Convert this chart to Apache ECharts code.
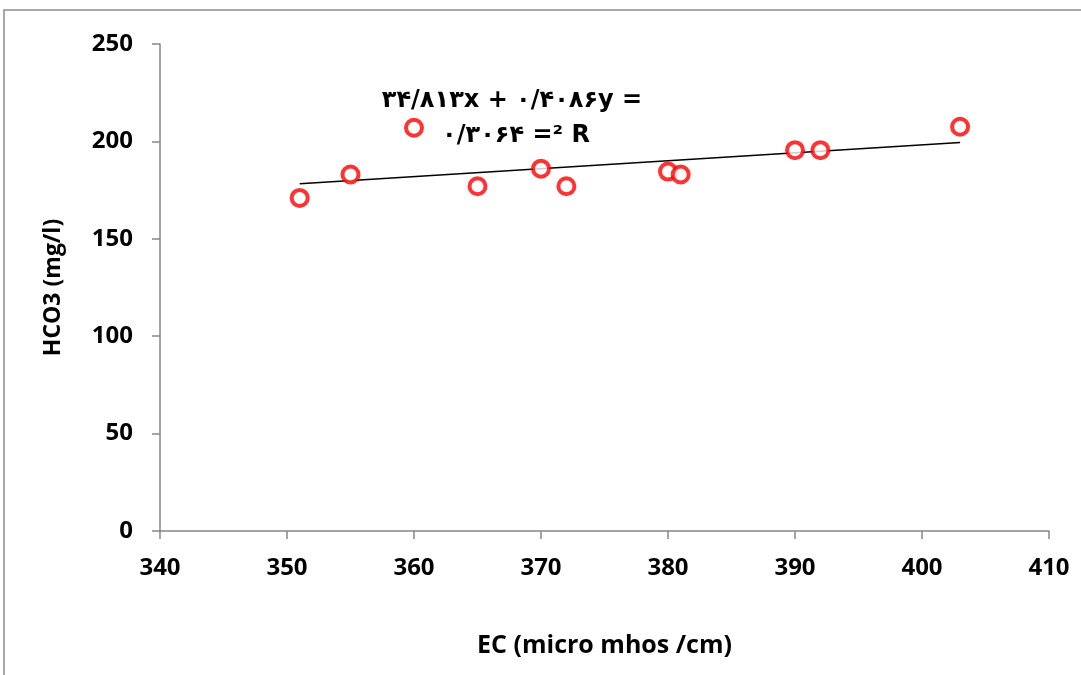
<!DOCTYPE html>
<html>
<head>
<meta charset="utf-8">
<script src="https://cdn.jsdelivr.net/npm/echarts@6/dist/echarts.min.js"></script>
<style>
  html, body { margin: 0; padding: 0; background: #fff; }
  #chart { width: 1081px; height: 675px; }
</style>
</head>
<body>
<div id="chart"></div>
<script>
'use strict';

// EC values (x) and HCO3 values (y)
var ecValues = [351, 355, 360, 365, 370, 372, 380, 381, 390, 392, 403];
var hco3Values = [171, 183, 207, 177, 186, 177, 184.5, 183, 195.5, 195.5, 207.5];

// trendline as printed on the chart: y = 0.4086x + 34.813
var trendSlope = 0.4086;
var trendIntercept = 34.813;

var eqLine1 = '۳۴/۸۱۳x + ۰/۴۰۸۶y =';
var eqLine2 = '۰/۳۰۶۴ =² R';

var points = [];
for (var i = 0; i < ecValues.length; i++) {
    points.push([ecValues[i], hco3Values[i]]);
}
var xMin = Math.min.apply(null, ecValues);
var xMax = Math.max.apply(null, ecValues);
var trendData = [
    [xMin, trendSlope * xMin + trendIntercept],
    [xMax, trendSlope * xMax + trendIntercept]
];

var fontFam = '"Open Sans", "DejaVu Sans", sans-serif';
var eqFont = '"DejaVu Sans", "Open Sans", sans-serif';
var axisColor = '#868686';

var chart = echarts.init(document.getElementById('chart'));

var option = {
    animation: false,
    backgroundColor: '#fff',
    grid: {
        left: 160,
        right: 32,
        top: 44,
        bottom: 144
    },
    graphic: [{
        type: 'rect',
        shape: { x: 4, y: 10, width: 1100, height: 700 },
        style: { fill: 'none', stroke: '#8c8c8c', lineWidth: 1.5 },
        silent: true
    }, {
        type: 'text',
        x: 512,
        y: 101,
        style: {
            text: eqLine1,
            textAlign: 'center',
            textVerticalAlign: 'middle',
            font: 'bold 24px ' + eqFont,
            fill: '#000'
        }
    }, {
        type: 'text',
        x: 516,
        y: 136,
        style: {
            text: eqLine2,
            textAlign: 'center',
            textVerticalAlign: 'middle',
            font: 'bold 24px ' + eqFont,
            fill: '#000'
        }
    }],
    xAxis: {
        type: 'value',
        min: 340,
        max: 410,
        interval: 10,
        name: 'EC (micro mhos /cm)',
        nameLocation: 'middle',
        nameGap: 102,
        nameTextStyle: { fontFamily: fontFam, fontWeight: 'bold', fontSize: 25, color: '#000' },
        splitLine: { show: false },
        axisLine: { lineStyle: { color: axisColor, width: 1.5 } },
        axisTick: { show: true, length: 8, lineStyle: { color: axisColor, width: 1.5 } },
        axisLabel: { fontFamily: fontFam, fontWeight: 'bold', fontSize: 24, color: '#000', margin: 25 }
    },
    yAxis: {
        type: 'value',
        min: 0,
        max: 250,
        interval: 50,
        name: 'HCO3 (mg/l)',
        nameLocation: 'middle',
        nameGap: 95,
        nameTextStyle: { fontFamily: fontFam, fontWeight: 'bold', fontSize: 23, color: '#000' },
        splitLine: { show: false },
        axisLine: { show: true, lineStyle: { color: axisColor, width: 1.5 } },
        axisTick: { show: true, length: 8, lineStyle: { color: axisColor, width: 1.5 } },
        axisLabel: { fontFamily: fontFam, fontWeight: 'bold', fontSize: 24, color: '#000', margin: 27 }
    },
    series: [{
        name: 'trend',
        type: 'line',
        data: trendData,
        symbol: 'none',
        lineStyle: { color: '#000', width: 1.5 },
        z: 2
    }, {
        name: 'HCO3',
        type: 'scatter',
        data: points,
        symbol: 'circle',
        symbolSize: 16,
        itemStyle: { color: '#fff', borderColor: '#ff0000', borderWidth: 4 },
        z: 3
    }]
};

chart.setOption(option);
</script>
</body>
</html>
